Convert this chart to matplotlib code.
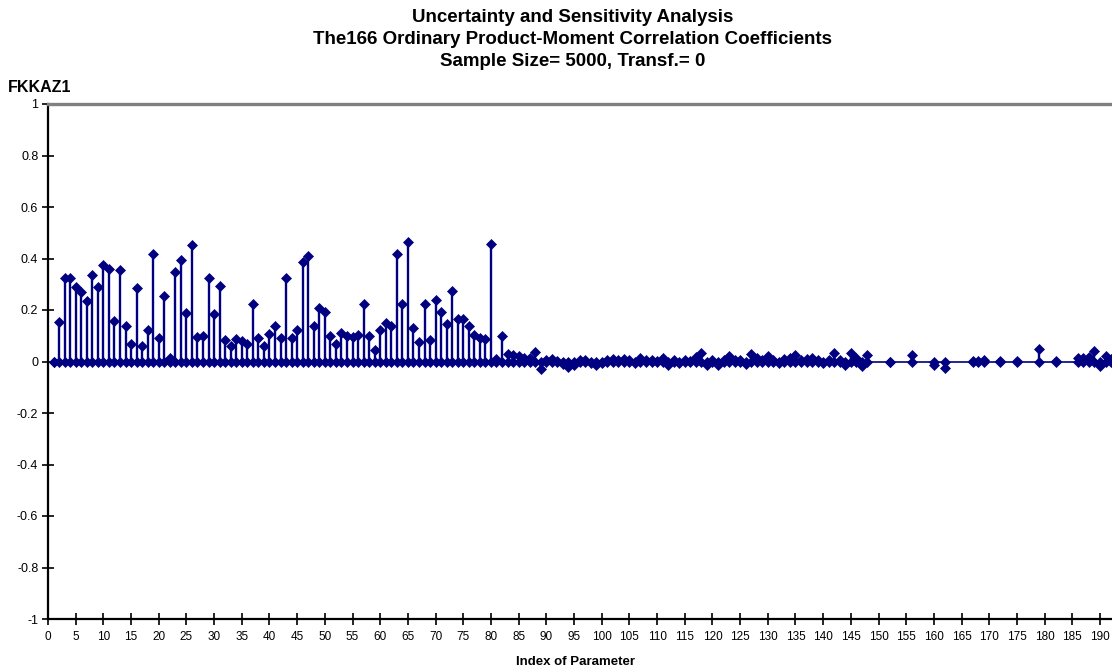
import matplotlib
matplotlib.use("Agg")
import matplotlib.pyplot as plt

plt.rcParams['font.family'] = ['Liberation Sans', 'DejaVu Sans']

# parameter indices (166 of them) and their correlation coefficients
idx = list(range(1, 149)) + [152, 156, 160, 162, 167, 168, 169, 172, 175, 179, 182,
                            186, 187, 188, 189, 190, 191, 192]
corr = [0.0, 0.155, 0.325, 0.325, 0.288, 0.27, 0.234, 0.335, 0.288, 0.373,
        0.358, 0.156, 0.355, 0.138, 0.069, 0.286, 0.061, 0.123, 0.417, 0.092,
        0.255, 0.012, 0.348, 0.394, 0.187, 0.451, 0.094, 0.1, 0.324, 0.185,
        0.293, 0.084, 0.061, 0.086, 0.078, 0.069, 0.224, 0.092, 0.061, 0.107,
        0.138, 0.092, 0.324, 0.092, 0.123, 0.386, 0.41, 0.138, 0.208, 0.193,
        0.1, 0.069, 0.11, 0.1, 0.094, 0.102, 0.224, 0.1, 0.045, 0.123,
        0.148, 0.138, 0.417, 0.224, 0.464, 0.131, 0.076, 0.224, 0.084, 0.239,
        0.193, 0.146, 0.273, 0.164, 0.164, 0.138, 0.102, 0.092, 0.086, 0.456,
        0.008, 0.1, 0.03, 0.025, 0.02, 0.015, 0.012, 0.038, -0.03, 0.005,
        0.008, 0.002, -0.008, -0.02, -0.012, 0.004, 0.006, -0.005, -0.015, -0.006,
        0.004, 0.008, 0.004, 0.008, 0.006, -0.005, 0.015, 0.004, 0.006, 0.002,
        0.012, -0.012, 0.004, -0.004, 0.006, 0.002, 0.018, 0.032, -0.012, 0.006,
        -0.014, 0.004, 0.022, 0.006, 0.004, -0.01, 0.03, 0.015, 0.005, 0.02,
        0.006, -0.004, 0.008, 0.012, 0.025, 0.004, 0.01, 0.012, 0.004, -0.004,
        0.006, 0.032, 0.004, -0.012, 0.032, 0.014, -0.018, 0.024,
        -0.003, 0.025, -0.014, -0.026, 0.003, 0.002, 0.004, 0.003, 0.002, 0.047,
        0.001, 0.012, 0.015, 0.018, 0.04, -0.016, 0.02, 0.008]
zeros = [0.0] * len(idx)

navy = '#000080'

fig = plt.figure(figsize=(11.12, 6.71), dpi=100)
ax = fig.add_axes([48 / 1112, 52 / 671, 1 - 48 / 1112, 515 / 671])

ax.plot(idx, zeros, color=navy, lw=1.2, marker='D', ms=4.8, mec=navy, mew=0.5, zorder=3)
ax.vlines(idx, zeros, corr, color=navy, lw=1.7, zorder=2)
ax.plot(idx, corr, ls='none', color=navy, marker='D', ms=4.8, mec=navy, mew=0.5, zorder=4)

ax.set_xlim(0, 1064 / 5.537)
ax.set_ylim(-1, 1)
ax.set_xticks(range(0, 191, 5))
ax.set_yticks([1, 0.8, 0.6, 0.4, 0.2, 0, -0.2, -0.4, -0.6, -0.8, -1])
ax.set_yticklabels(['1', '0.8', '0.6', '0.4', '0.2', '0', '-0.2', '-0.4', '-0.6', '-0.8', '-1'])
ax.tick_params(axis='both', direction='inout', length=8, width=1.2, color='black')
ax.tick_params(axis='x', labelsize=8.5, pad=5)
ax.tick_params(axis='y', labelsize=9, pad=3)

ax.spines['right'].set_visible(False)
ax.spines['top'].set_color('#808080')
ax.spines['top'].set_linewidth(2.4)
ax.spines['left'].set_linewidth(1.6)
ax.spines['bottom'].set_linewidth(1.6)

fig.text(0.515, 1 - 18 / 671, 'Uncertainty and Sensitivity Analysis',
         ha='center', va='center', fontsize=13.5, fontweight='bold')
fig.text(0.515, 1 - 40 / 671, 'The166 Ordinary Product-Moment Correlation Coefficients',
         ha='center', va='center', fontsize=13.5, fontweight='bold')
fig.text(0.515, 1 - 61 / 671, 'Sample Size= 5000, Transf.= 0',
         ha='center', va='center', fontsize=13.5, fontweight='bold')
fig.text(8 / 1112, 1 - 88 / 671, 'FKKAZ1', ha='left', va='center',
         fontsize=11.5, fontweight='bold')
fig.text(575 / 1112, 1 - 662 / 671, 'Index of Parameter', ha='center', va='center',
         fontsize=9.5, fontweight='bold')

fig.savefig('out.png', dpi=100)
